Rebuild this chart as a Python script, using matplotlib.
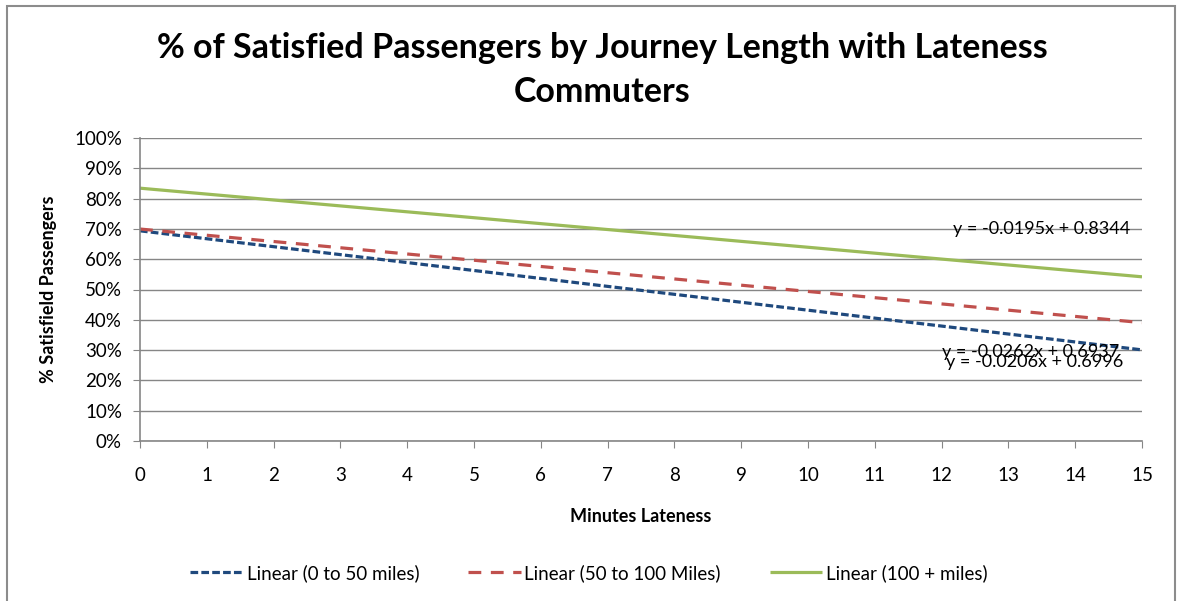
import numpy as np
import matplotlib.pyplot as plt
from matplotlib.patches import Rectangle

# trendline fits: y = slope * x + intercept
labels = ["Linear (0 to 50 miles)", "Linear (50 to 100 Miles)", "Linear (100 + miles)"]
slopes = [-0.0262, -0.0206, -0.0195]
intercepts = [0.6937, 0.6996, 0.8344]
equations = ["y = -0.0262x + 0.6937", "y = -0.0206x + 0.6996", "y = -0.0195x + 0.8344"]
x_ends = [0, 15]

colors = ["#1F497D", "#C0504D", "#9BBB59"]
dashes = [(2.4, 1.0), (4.0, 3.0), None]
eq_pos = [(13.34, 0.294), (13.4, 0.261), (13.49, 0.70)]

plt.rcParams['font.family'] = ['Lato', 'DejaVu Sans']

fig = plt.figure(figsize=(11.8, 6.01), dpi=100)
ax = fig.add_axes([140/1180, 160/601, 1002/1180, 303/601])

xs = np.array(x_ends)
for i in range(3):
    ys = slopes[i] * xs + intercepts[i]
    if dashes[i] is None:
        ax.plot(xs, ys, color=colors[i], linewidth=2.3, label=labels[i], solid_capstyle='butt')
    else:
        ax.plot(xs, ys, color=colors[i], linewidth=2.3, label=labels[i], dashes=dashes[i])

for i in range(3):
    ax.text(eq_pos[i][0], eq_pos[i][1], equations[i], ha='center', va='center', fontsize=13, color='black')

ax.set_xlim(0, 15)
ax.set_ylim(0, 1)
ax.set_xticks(range(16))
ax.set_yticks(np.arange(0, 1.01, 0.1))
ax.set_yticklabels([f"{int(round(v*100))}%" for v in np.arange(0, 1.01, 0.1)])
ax.yaxis.grid(True, color='#868686', linewidth=1)
ax.set_axisbelow(True)
for s in ['top', 'right']:
    ax.spines[s].set_visible(False)
for s in ['left', 'bottom']:
    ax.spines[s].set_color('#868686')
    ax.spines[s].set_linewidth(1.2)
ax.tick_params(axis='both', colors='#868686', labelcolor='black', labelsize=13.5, length=5, direction='out')
ax.tick_params(axis='x', pad=14)
ax.tick_params(axis='y', pad=8)

ax.set_xlabel("Minutes Lateness", fontsize=13, fontweight='bold', labelpad=17)
ax.set_ylabel("% Satisfield Passengers", fontsize=13, fontweight='bold', labelpad=12)

fig.text(602/1180, 1 - 70/601, "% of Satisfied Passengers by Journey Length with Lateness\nCommuters",
         ha='center', va='center', fontsize=24.5, fontweight='bold', linespacing=1.5)

ax.legend(loc='center', bbox_to_anchor=(0.448, -0.435), ncol=3, frameon=False, fontsize=13.5,
          handlelength=2.8, columnspacing=2.6, handletextpad=0.2)

fig.patches.append(Rectangle((7/1180, -0.02), 1168/1180, 1.02 - 6/601, transform=fig.transFigure,
                             fill=False, edgecolor='#8C8C8C', linewidth=1.5))

fig.savefig("out.png", dpi=100)
